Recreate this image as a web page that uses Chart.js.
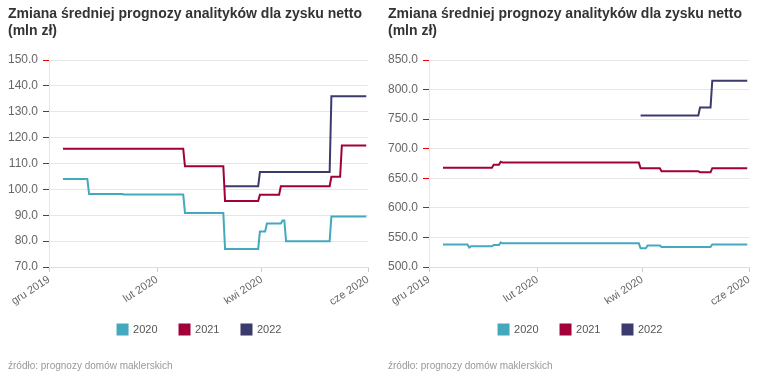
<!DOCTYPE html>
<html>
<head>
<meta charset="utf-8">
<script src="https://cdn.jsdelivr.net/npm/chart.js@4"></script>
<style>
  body { margin: 0; background: #fff; width: 759px; height: 374px; overflow: hidden; position: relative; font-family: "Liberation Sans", Arial, sans-serif; }
  .panel { position: absolute; top: 0; height: 374px; }
  .panel canvas { position: absolute; left: 0; top: 0; }
  .title { position: absolute; left: 8px; top: 5px; font-size: 14px; font-weight: bold; line-height: 17px; color: #333; white-space: nowrap; z-index: 2; }
  .src { position: absolute; left: 8px; top: 360px; font-size: 10px; line-height: 12px; color: #999; z-index: 2; }
</style>
</head>
<body>
<div class="panel" id="p1" style="left:0;width:380px">
  <div class="title">Zmiana średniej prognozy analityków dla zysku netto<br>(mln zł)</div>
  <div style="position:absolute;left:0;top:0;width:380px;height:374px"><canvas id="c1"></canvas></div>
  <div class="src">źródło: prognozy domów maklerskich</div>
</div>
<div class="panel" id="p2" style="left:380px;width:379px">
  <div class="title">Zmiana średniej prognozy analityków dla zysku netto<br>(mln zł)</div>
  <div style="position:absolute;left:0;top:0;width:379px;height:374px"><canvas id="c2"></canvas></div>
  <div class="src">źródło: prognozy domów maklerskich</div>
</div>
<script>
// series names and x-axis ticks
const seriesNames = ["2020", "2021", "2022"];
const tickDates = ["2019-12-01", "2020-02-01", "2020-04-01", "2020-06-01"];
const tickLabels = ["gru 2019", "lut 2020", "kwi 2020", "cze 2020"];

// left chart: [date, value]
const left2020 = [
	["2019-12-09", 104.0], ["2019-12-23", 104.0], ["2019-12-24", 98.2],
	["2020-01-12", 98.2], ["2020-01-13", 98.0], ["2020-02-16", 98.0],
	["2020-02-17", 90.9], ["2020-03-10", 90.9], ["2020-03-11", 77.0],
	["2020-03-30", 77.0], ["2020-03-31", 83.7], ["2020-04-03", 83.7],
	["2020-04-04", 86.8], ["2020-04-12", 86.8], ["2020-04-13", 88.0],
	["2020-04-14", 88.0], ["2020-04-15", 80.0], ["2020-05-10", 80.0],
	["2020-05-11", 89.5], ["2020-05-31", 89.5],
];
const left2021 = [
	["2019-12-09", 115.7], ["2020-02-16", 115.7], ["2020-02-17", 108.9],
	["2020-03-10", 108.9], ["2020-03-11", 95.5], ["2020-03-30", 95.5],
	["2020-03-31", 97.9], ["2020-04-11", 97.9], ["2020-04-12", 101.2],
	["2020-05-10", 101.2], ["2020-05-11", 104.9], ["2020-05-16", 104.9],
	["2020-05-17", 117.0], ["2020-05-31", 117.0],
];
const left2022 = [
	["2020-03-11", 101.2], ["2020-03-30", 101.2], ["2020-03-31", 106.7],
	["2020-05-10", 106.7], ["2020-05-11", 136.0], ["2020-05-31", 136.0],
];

// right chart: [date, value]
const right2020 = [
	["2019-12-09", 538], ["2019-12-23", 538], ["2019-12-24", 533],
	["2019-12-25", 535], ["2020-01-06", 535], ["2020-01-07", 537],
	["2020-01-10", 537], ["2020-01-11", 541.5], ["2020-01-12", 540],
	["2020-03-30", 540], ["2020-03-31", 531.5], ["2020-04-03", 531.5],
	["2020-04-04", 536.5], ["2020-04-11", 536.5], ["2020-04-12", 534],
	["2020-05-10", 534], ["2020-05-11", 538], ["2020-05-31", 538],
];
const right2021 = [
	["2019-12-09", 668], ["2020-01-06", 668], ["2020-01-07", 673],
	["2020-01-10", 673], ["2020-01-11", 678], ["2020-01-12", 676.5],
	["2020-03-30", 676.5], ["2020-03-31", 667], ["2020-04-11", 667],
	["2020-04-12", 662], ["2020-05-03", 662], ["2020-05-04", 660],
	["2020-05-10", 660], ["2020-05-11", 667], ["2020-05-31", 667],
];
const right2022 = [
	["2020-03-31", 756], ["2020-05-03", 756], ["2020-05-04", 769.5],
	["2020-05-10", 769.5], ["2020-05-11", 815], ["2020-05-31", 815],
];

const colors = ["#44a9bd", "#a1003a", "#3b3b6e"];
const startDay = Date.parse(tickDates[0]);
// days since 1 Dec 2019
function dayOf(s) {
	return (Date.parse(s) - startDay) / 864e5;
}
const tickDays = tickDates.map(dayOf);

function makeChart(id, series, yMin, yMax, yStep, padLeft, padRight, legendShift) {
	const datasets = series.map((s, i) => ({
		label: seriesNames[i],
		data: s.map((p) => ({ x: dayOf(p[0]), y: p[1] })),
		borderColor: colors[i],
		backgroundColor: colors[i],
		borderWidth: 2,
		pointRadius: 0,
		tension: 0,
	}));
	return new Chart(document.getElementById(id), {
		type: "line",
		data: { datasets: datasets },
		options: {
			responsive: true,
			maintainAspectRatio: false,
			animation: false,
			layout: { padding: { left: padLeft, right: padRight, top: 60, bottom: 19 } },
			scales: {
				x: {
					type: "linear",
					min: tickDays[0],
					max: tickDays[tickDays.length - 1],
					afterBuildTicks: (scale) => {
						scale.ticks = tickDays.map((v) => ({ value: v }));
					},
					afterFit: (scale) => {
						scale.height = 45;
					},
					ticks: {
						autoSkip: false,
						minRotation: 33,
						maxRotation: 33,
						padding: 1,
						color: "#666",
						font: { family: "'Liberation Sans', Arial", size: 11 },
						callback: (v) => tickLabels[tickDays.indexOf(v)],
					},
					grid: { drawOnChartArea: false, tickLength: 5, color: "#ccc" },
					border: { color: "#ddd" },
				},
				y: {
					min: yMin,
					max: yMax,
					afterFit: (scale) => {
						scale.width = 49 - padLeft;
					},
					ticks: {
						stepSize: yStep,
						padding: 5,
						color: "#666",
						font: { family: "'Liberation Sans', Arial", size: 12 },
						callback: (v) => v.toFixed(1),
					},
					grid: { color: "#e6e6e6", tickLength: 6, tickColor: "#e00" },
					border: { color: "#e6e6e6" },
				},
			},
			plugins: {
				legend: {
					position: "bottom",
					labels: {
						boxWidth: 10,
						boxHeight: 10,
						padding: 22,
						color: "#555",
						font: { family: "'Liberation Sans', Arial", size: 11 },
					},
				},
				tooltip: { enabled: false },
			},
		},
		plugins: [
			{
				// nudge the legend so it sits where the original one does
				id: "legendShift",
				afterLayout(chart) {
					chart.legend.left += legendShift;
					chart.legend.right += legendShift;
					chart.legend.top -= 10;
					chart.legend.bottom -= 10;
				},
			},
		],
	});
}

makeChart("c1", [left2020, left2021, left2022], 70, 150, 10, 7, 12, 12);
makeChart("c2", [right2020, right2021, right2022], 500, 850, 50, 8, 10, 12);
</script>
</body>
</html>
